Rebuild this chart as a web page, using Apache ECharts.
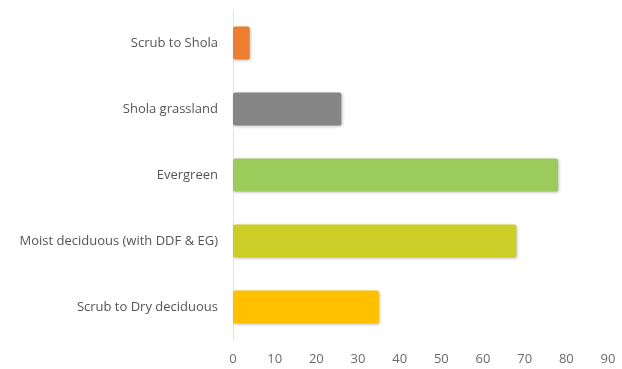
<!DOCTYPE html>
<html>
<head>
<meta charset="utf-8">
<script src="https://cdn.jsdelivr.net/npm/echarts@6/dist/echarts.min.js"></script>
<style>html,body{margin:0;padding:0;background:#fff}#c{width:622px;height:369px}</style>
</head>
<body>
<div id="c"></div>
<script>
const categories = ["Scrub to Dry deciduous", "Moist deciduous (with DDF & EG)", "Evergreen", "Shola grassland", "Scrub to Shola"];
const values = [35, 68, 78, 26, 4];
const barColors = ["#FFC000", "#CDCD28", "#9BCB5B", "#858585", "#ED7D31"];
const xTicks = [0, 10, 20, 30, 40, 50, 60, 70, 80, 90];

const chart = echarts.init(document.getElementById('c'));
chart.setOption({
  animation: false,
  grid: {left: 233, right: 14, top: 10, bottom: 29, containLabel: false},
  xAxis: {
    type: 'value', min: xTicks[0], max: xTicks[xTicks.length - 1], interval: 10,
    axisLine: {show: false}, axisTick: {show: false}, splitLine: {show: false},
    axisLabel: {color: '#6a6a6a', fontSize: 13, fontFamily: 'Open Sans', margin: 13}
  },
  yAxis: {
    type: 'category', data: categories,
    axisLine: {show: true, lineStyle: {color: '#e2e2e2', width: 1}},
    axisTick: {show: false},
    axisLabel: {color: '#555', fontSize: 13, fontFamily: 'Open Sans', margin: 15}
  },
  series: [{
    type: 'bar', barWidth: '50%',
    data: values.map((v, i) => ({value: v, itemStyle: {color: barColors[i]}})),
    itemStyle: {borderRadius: 2, shadowColor: 'rgba(0,0,0,0.25)', shadowBlur: 3, shadowOffsetY: 1, shadowOffsetX: 1}
  }]
});
</script>
</body>
</html>
